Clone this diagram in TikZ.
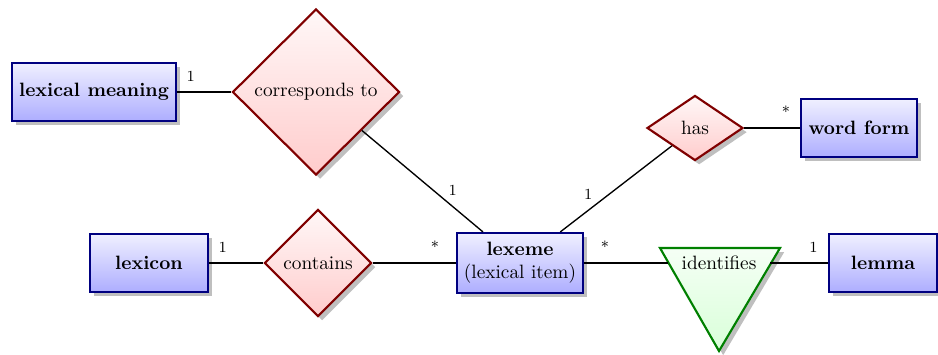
\documentclass[tikz,border=0pt]{standalone}
\usetikzlibrary{shapes.geometric,shadows}
\begin{document}
\begin{tikzpicture}[x=0.518pt,y=-0.518pt,
  entity/.style={rectangle, draw=blue!50!black, line width=1.1pt,
    top color=blue!6, bottom color=blue!32, drop shadow,
    font=\bfseries, minimum height=30pt, inner sep=2pt},
  relation/.style={diamond, draw=red!50!black, line width=1.1pt,
    top color=red!3, bottom color=red!20, drop shadow, inner sep=1pt},
  link/.style={line width=0.7pt},
  mult/.style={font=\footnotesize, above=2pt}
]
\useasboundingbox (0,0) rectangle (938,354);

% entities
\node[entity, minimum width=85pt] (lexmean) at (94,92) {lexical meaning};
\node[entity, minimum width=61.1pt] (lexicon) at (149,263) {lexicon};
\node[entity, minimum width=65.3pt, minimum height=31.1pt, align=center,
      font=\mdseries] (lexeme) at (520,263) {\textbf{lexeme}\\(lexical item)};
\node[entity, minimum width=60.1pt] (wordform) at (859,128) {word form};
\node[entity, minimum width=55.9pt] (lemma) at (883,263) {lemma};

% relationships
\node[relation, minimum width=86.5pt, minimum height=86pt] (corr) at (316,92) {corresponds to};
\node[relation, minimum width=55.4pt, minimum height=55.4pt] (contains) at (318,263) {contains};
\node[relation, minimum width=49.7pt, minimum height=33.7pt] (has) at (695,128) {has};

% specialisation triangle
\path[draw=green!50!black, line width=1.1pt, line join=miter,
      top color=green!4, bottom color=green!15, drop shadow]
  (660,248) -- (780,248) -- (719,351) -- cycle;
\node[minimum width=52.8pt, inner sep=0pt] (identifies) at (719,263) {identifies};

% connectors with multiplicities
\draw[link] (lexmean) -- node[mult, near start] {1} (corr);
\draw[link] (corr) -- node[mult, near end] {1} (lexeme);
\draw[link] (lexeme) -- node[mult, near start] {1} (has);
\draw[link] (has) -- node[mult, near end] {*} (wordform);
\draw[link] (lexicon) -- node[mult, near start] {1} (contains);
\draw[link] (contains) -- node[mult, near end] {*} (lexeme);
\draw[link] (lexeme) -- node[mult, near start] {*} (identifies);
\draw[link] (identifies) -- node[mult, near end] {1} (lemma);
\end{tikzpicture}
\end{document}
